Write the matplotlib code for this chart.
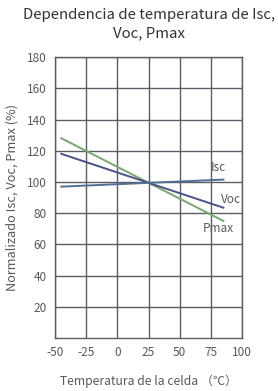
import matplotlib
matplotlib.use("Agg")
import matplotlib.pyplot as plt

plt.rcParams['font.family'] = ['Noto Sans CJK SC', 'DejaVu Sans']
plt.rcParams['axes.unicode_minus'] = False

temps = [-45, 85]
isc = [97, 101.5]
voc = [118, 83.5]
pmax = [128, 75]

series_names = ['Isc', 'Voc', 'Pmax']
xticks = [-50, -25, 0, 25, 50, 75, 100]
yticks = [20, 40, 60, 80, 100, 120, 140, 160, 180]

txt = '#595959'
grid = '#5a5d63'

fig = plt.figure(figsize=(2.78, 3.91), dpi=100)
ax = fig.add_axes([0.198, 0.1355, 0.673, 0.7185])

ax.plot(temps, pmax, color='#76a86f', lw=1.4)
ax.plot(temps, voc, color='#4d5189', lw=1.4)
ax.plot(temps, isc, color='#4f6f95', lw=1.4)

ax.text(80.5, 109, series_names[0], color=txt, fontsize=8.5, ha='center', va='center')
ax.text(91, 89, series_names[1], color=txt, fontsize=8.5, ha='center', va='center')
ax.text(80.5, 70, series_names[2], color=txt, fontsize=8.5, ha='center', va='center')

ax.set_xlim(-50, 100)
ax.set_ylim(0, 180)
ax.set_xticks(xticks)
ax.set_yticks(yticks)
ax.grid(True, color=grid, lw=1)
for s in ax.spines.values():
    s.set_color(grid)
    s.set_linewidth(1)
ax.tick_params(length=0, labelsize=8.5, labelcolor=txt, pad=6)

ax.set_xlabel('Temperatura de la celda （℃）', color=txt, fontsize=8.7, labelpad=11)
ax.set_ylabel('Normalizado Isc, Voc, Pmax (%)', color=txt, fontsize=9.2, labelpad=6)
ax.set_title('Dependencia de temperatura de Isc,\nVoc, Pmax', color='#333333',
             fontsize=10.8, pad=14, linespacing=1.4)

fig.savefig('out.png', dpi=100)
